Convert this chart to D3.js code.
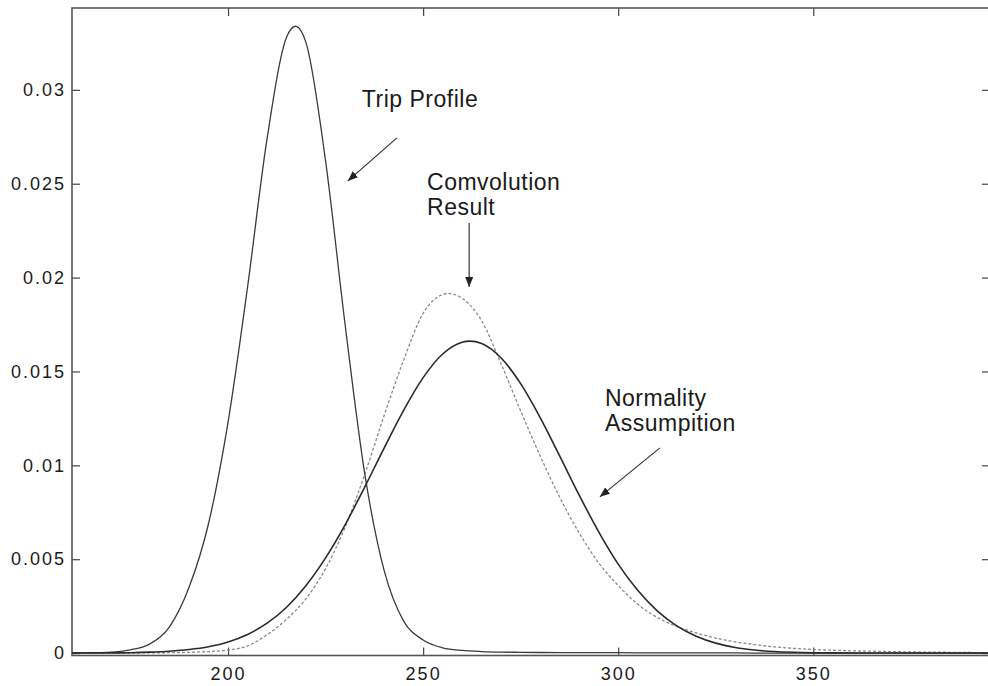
<!DOCTYPE html>
<html>
<head>
<meta charset="utf-8">
<script src="https://cdn.jsdelivr.net/npm/d3@7"></script>
<style>
body { margin: 0; background: #fff; }
text { font-family: "Liberation Sans", Arial, Helvetica, sans-serif; fill: #1a1a1a; }
.axis text { font-size: 18px; letter-spacing: 2px; }
.axis line { stroke: #444; stroke-width: 1.2; }
.note { font-size: 23px; letter-spacing: 0.5px; }
</style>
</head>
<body>
<div id="chart"></div>
<script>
// x grid of the three curves
var xs = [160, 165, 170, 175, 180, 185, 190, 195, 200, 205, 210, 215, 220, 225, 230, 235,
          240, 245, 250, 255, 260, 265, 270, 275, 280, 285, 290, 295, 300, 305, 310, 315,
          320, 325, 330, 335, 340, 345, 350, 355, 360, 365, 370, 375, 380, 385, 390, 395];

var trip = [0.00001, 0.00002, 0.00005, 0.00017, 0.00049, 0.0014, 0.0035, 0.0069, 0.0123, 0.0195, 0.0274, 0.0328, 0.0325, 0.0262, 0.0175, 0.0096,
            0.0044, 0.0017, 0.0007, 0.00028, 0.00014, 0.00008, 0.00005, 0.00004, 0.00003, 0.00002, 0.00002, 0.00002, 0.00002, 0.00001, 0.00001, 0.00001,
            0.00001, 0.00001, 0.00001, 0, 0, 0, 0, 0, 0, 0, 0, 0, 0, 0, 0, 0];

var normal = [0, 0.000005, 0.00001, 0.00002, 0.00005, 0.0001, 0.00019, 0.00034, 0.00059, 0.00099, 0.00159, 0.00244, 0.0036, 0.00507, 0.00683, 0.00883,
              0.01092, 0.01293, 0.01467, 0.01593, 0.01656, 0.01649, 0.01572, 0.01435, 0.01254, 0.0105, 0.00841, 0.00646, 0.00474, 0.00334, 0.00225, 0.00145,
              0.0009, 0.00053, 0.0003, 0.00016, 0.00008, 0.00004, 0.00002, 0.00001, 0, 0, 0, 0, 0, 0, 0, 0];

var conv = [0, 0, 0, 0, 0.00001, 0.00002, 0.00004, 0.00008, 0.00016, 0.00038, 0.00098, 0.0018, 0.0029, 0.0045, 0.0067, 0.0095,
            0.01265, 0.0156, 0.0181, 0.0191, 0.0189, 0.0177, 0.0154, 0.0129, 0.0105, 0.0083, 0.0064, 0.0048, 0.0036, 0.0026, 0.0019, 0.00142,
            0.00107, 0.0008, 0.0006, 0.00045, 0.00033, 0.00025, 0.00019, 0.00015, 0.00012, 0.0001, 0.00008, 0.00006, 0.00005, 0.00004, 0.00003, 0.00002];

var xTicks = [200, 250, 300, 350];
var yTicks = [0, 0.005, 0.01, 0.015, 0.02, 0.025, 0.03];

// labels and arrows, in data units
var notes = [
    {lines: ["Trip Profile"], x: 234.3, y: 0.0291},
    {lines: ["Comvolution", "Result"], x: 251.0, y: 0.02467},
    {lines: ["Normality", "Assumpition"], x: 296.6, y: 0.01316}
];
var arrows = [
    {from: [243.3, 0.02744], to: [230.7, 0.02515]},
    {from: [261.8, 0.02291], to: [261.8, 0.01950]},
    {from: [310.7, 0.01093], to: [295.3, 0.00832]}
];

var width = 988,
    height = 686,
    padL = 72, padR = 990, padT = 8, padB = 655.5;

var svg = d3.select("#chart").append("svg")
    .attr("width", width)
    .attr("height", height);

var x = d3.scaleLinear().domain([160, 395.3]).range([padL, padR]);
var y = d3.scaleLinear().domain([-0.00013, 0.03436]).range([padB, padT]);

svg.append("defs").append("clipPath").attr("id", "clip")
    .append("rect")
    .attr("x", padL).attr("y", padT)
    .attr("width", padR - padL).attr("height", padB - padT);

var marker = svg.select("defs").append("marker")
    .attr("id", "head")
    .attr("viewBox", "0 -4 10 8")
    .attr("refX", 10).attr("refY", 0)
    .attr("markerWidth", 10).attr("markerHeight", 8)
    .attr("markerUnits", "userSpaceOnUse")
    .attr("orient", "auto");
marker.append("path").attr("d", "M0,-4L10,0L0,4Z").attr("fill", "#222");

// axes, ticks pointing inwards on all four sides
var fmt = d3.format("~g");
svg.append("g").attr("class", "axis")
    .attr("transform", "translate(0," + padB + ")")
    .call(d3.axisBottom(x).tickValues(xTicks).tickSizeInner(-8).tickSizeOuter(0).tickPadding(12));
svg.append("g").attr("class", "axis")
    .attr("transform", "translate(0," + padT + ")")
    .call(d3.axisTop(x).tickValues(xTicks).tickSizeInner(-8).tickSizeOuter(0).tickFormat(""));
svg.append("g").attr("class", "axis")
    .attr("transform", "translate(" + padL + ",0)")
    .call(d3.axisLeft(y).tickValues(yTicks).tickFormat(fmt).tickSizeInner(-8).tickSizeOuter(0).tickPadding(6));
svg.append("g").attr("class", "axis")
    .attr("transform", "translate(" + padR + ",0)")
    .call(d3.axisRight(y).tickValues(yTicks).tickSizeInner(-8).tickSizeOuter(0).tickFormat(""));
svg.selectAll(".axis .domain").remove();

svg.append("rect")
    .attr("x", padL).attr("y", padT)
    .attr("width", padR - padL).attr("height", padB - padT)
    .attr("fill", "none")
    .attr("stroke", "#555")
    .attr("stroke-width", 1.6);

var line = d3.line()
    .x(function (d, i) { return x(xs[i]); })
    .y(function (d) { return y(d); })
    .curve(d3.curveCardinal);

var plot = svg.append("g").attr("clip-path", "url(#clip)");

plot.append("path")
    .attr("d", line(conv))
    .attr("fill", "none")
    .attr("stroke", "#8a8a8a")
    .attr("stroke-width", 1.3)
    .attr("stroke-dasharray", "3,2");

plot.append("path")
    .attr("d", line(trip))
    .attr("fill", "none")
    .attr("stroke", "#3a3a3a")
    .attr("stroke-width", 1.3);

plot.append("path")
    .attr("d", line(normal))
    .attr("fill", "none")
    .attr("stroke", "#2a2a2a")
    .attr("stroke-width", 1.6);

svg.selectAll(".arrow").data(arrows).enter().append("line")
    .attr("class", "arrow")
    .attr("x1", function (d) { return x(d.from[0]); })
    .attr("y1", function (d) { return y(d.from[1]); })
    .attr("x2", function (d) { return x(d.to[0]); })
    .attr("y2", function (d) { return y(d.to[1]); })
    .attr("stroke", "#333")
    .attr("stroke-width", 1.2)
    .attr("marker-end", "url(#head)");

var t = svg.selectAll(".note").data(notes).enter().append("text")
    .attr("class", "note")
    .attr("x", function (d) { return x(d.x); })
    .attr("y", function (d) { return y(d.y); });
t.selectAll("tspan").data(function (d) { return d.lines.map(function (s) { return {s: s, x: x(d.x)}; }); })
    .enter().append("tspan")
    .attr("x", function (d) { return d.x; })
    .attr("dy", function (d, i) { return i ? "1.1em" : 0; })
    .text(function (d) { return d.s; });
</script>
</body>
</html>
